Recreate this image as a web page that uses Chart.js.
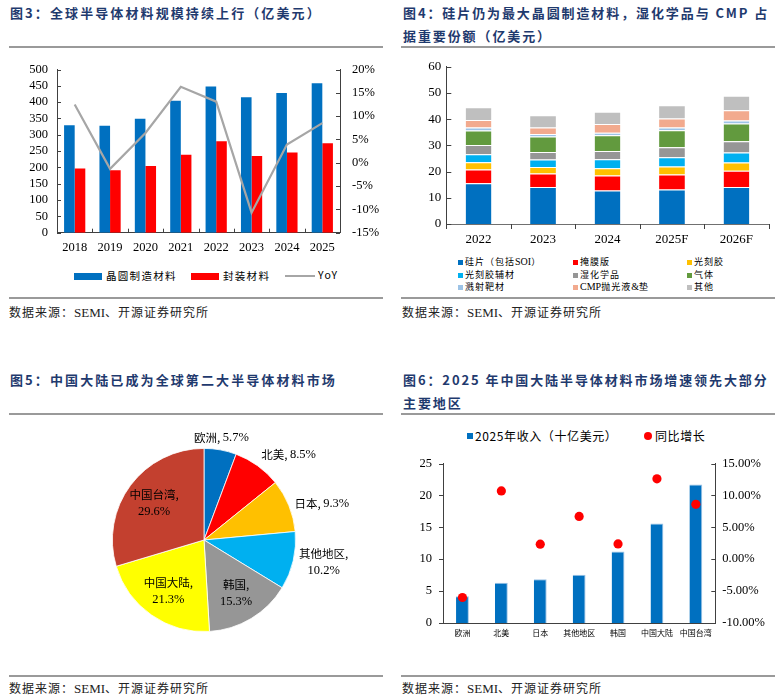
<!DOCTYPE html>
<html>
<head>
<meta charset="utf-8">
<script src="https://cdn.jsdelivr.net/npm/chart.js@4.4.1/dist/chart.umd.min.js"></script>
<style>
  html, body { margin: 0; padding: 0; background: #fff; }
  #page { position: relative; width: 784px; height: 697px; overflow: hidden; background: #fff;
          font-family: "Liberation Serif", "Noto Sans CJK SC", serif; color: #000; }
  .title { position: absolute; font-family: "Noto Sans CJK SC", sans-serif; font-weight: bold; font-size: 13px;
           letter-spacing: 2.1px; color: #1F3A6E; line-height: 23px; white-space: nowrap; }
  .rule { position: absolute; height: 2px; background: #9a9a9a; }
  .src { position: absolute; font-family: "Noto Sans CJK SC", sans-serif; font-size: 12px; letter-spacing: 1px;
         color: #222; white-space: nowrap; line-height: 16px; }
  .src .lat { font-family: "Liberation Serif", serif; font-size: 13px; letter-spacing: 0; }
  .box { position: absolute; }
  .leg { position: absolute; font-family: "Noto Sans CJK SC", sans-serif; white-space: nowrap; color: #000; }
  .leg span { position: absolute; }
</style>
</head>
<body>
<div id="page">
  <!-- Panel 1 -->
  <div class="title" style="left:10px; top:1px;">图3：全球半导体材料规模持续上行（亿美元）</div>
  <div class="rule" style="left:9px; width:374px; top:46px;"></div>
  <div class="box" style="left:0; top:50px; width:392px; height:215px;"><canvas id="c1"></canvas></div>
  <div class="leg" id="leg1" style="left:0; top:268px; width:392px; height:16px; font-size:10.5px; letter-spacing:1.3px;"></div>
  <div class="rule" style="left:9px; width:374px; top:297px;"></div>
  <div class="src" style="left:9px; top:304px;">数据来源：<span class="lat">SEMI</span>、开源证券研究所</div>

  <!-- Panel 2 -->
  <div class="title" style="left:403px; top:1px; letter-spacing:1.9px;">图4：硅片仍为最大晶圆制造材料，湿化学品与 CMP 占<br>据重要份额（亿美元）</div>
  <div class="rule" style="left:401px; width:374px; top:46px;"></div>
  <div class="box" style="left:392px; top:50px; width:392px; height:205px;"><canvas id="c2"></canvas></div>
  <div class="leg" id="leg2" style="left:392px; top:256px; width:392px; height:40px; font-size:9px; letter-spacing:1px;"></div>
  <div class="rule" style="left:401px; width:374px; top:297px;"></div>
  <div class="src" style="left:402px; top:304px;">数据来源：<span class="lat">SEMI</span>、开源证券研究所</div>

  <!-- Panel 3 -->
  <div class="title" style="left:10px; top:368px;">图5：中国大陆已成为全球第二大半导体材料市场</div>
  <div class="rule" style="left:9px; width:374px; top:413px;"></div>
  <div class="box" style="left:0; top:420px; width:392px; height:250px;"><canvas id="c3"></canvas></div>
  <div class="rule" style="left:9px; width:374px; top:675px;"></div>
  <div class="src" style="left:9px; top:680px;">数据来源：<span class="lat">SEMI</span>、开源证券研究所</div>

  <!-- Panel 4 -->
  <div class="title" style="left:403px; top:368px; letter-spacing:1.9px;">图6：2025 年中国大陆半导体材料市场增速领先大部分<br>主要地区</div>
  <div class="rule" style="left:401px; width:374px; top:413px;"></div>
  <div class="leg" id="leg4" style="left:392px; top:428px; width:392px; height:18px; font-size:12px; letter-spacing:0.6px;"></div>
  <div class="box" style="left:392px; top:445px; width:392px; height:200px;"><canvas id="c4"></canvas></div>
  <div class="rule" style="left:401px; width:374px; top:675px;"></div>
  <div class="src" style="left:402px; top:680px;">数据来源：<span class="lat">SEMI</span>、开源证券研究所</div>
</div>

<script>
// ---------------- DATA ----------------
// Figure 3: global semiconductor materials (100M USD)
const years3 = ['2018', '2019', '2020', '2021', '2022', '2023', '2024', '2025'];
const waferMaterials = [329, 328, 349, 404, 448, 415, 428, 458];
const packagingMaterials = [197, 191, 204, 239, 280, 235, 246, 274];
const yoyGrowth = [12.5, -1.3, 6.4, 16.3, 13.1, -10.7, 3.9, 8.5];
const seriesNames3 = ['晶圆制造材料', '封装材料', 'YoY'];

// Figure 4: wafer fab materials breakdown (100M USD)
const years4 = ['2022', '2023', '2024', '2025F', '2026F'];
const siliconWafer = [15.5, 14.1, 12.8, 13.2, 14.1];
const photomask = [5.3, 5.2, 5.7, 5.7, 6.2];
const photoresist = [2.8, 2.4, 2.8, 3.0, 3.2];
const photoresistAncillary = [3.0, 2.9, 3.4, 3.6, 3.8];
const wetChemicals = [3.5, 2.9, 3.1, 3.8, 4.3];
const gases = [5.6, 5.9, 6.1, 6.5, 6.7];
const sputterTargets = [1.1, 0.9, 0.9, 1.0, 1.2];
const cmpSlurryPad = [2.9, 2.5, 3.3, 3.4, 3.9];
const otherMaterials = [4.8, 4.7, 4.7, 5.1, 5.5];
const materialNames = ['硅片（包括SOI）', '掩膜版', '光刻胶', '光刻胶辅材', '湿化学品', '气体', '溅射靶材', 'CMP抛光液&垫', '其他'];

// Figure 5: regional share (%)
const pieRegions = ['欧洲', '北美', '日本', '其他地区', '韩国', '中国大陆', '中国台湾'];
const pieShares = [5.7, 8.5, 9.3, 10.2, 15.3, 21.3, 29.6];

// Figure 6: 2025 revenue by region (billion USD) and YoY growth (%)
const regions6 = ['欧洲', '北美', '日本', '其他地区', '韩国', '中国大陆', '中国台湾'];
const revenue2025 = [4.2, 6.3, 6.85, 7.55, 11.2, 15.6, 21.7];
const growth2025 = [-6.0, 10.7, 2.35, 6.7, 2.4, 12.6, 8.6];
const seriesNames6 = ['2025年收入（十亿美元）', '同比增长'];

// ---------------- STYLE ----------------
const BLUE = '#0070C0', RED = '#FF0000';
const materialColors = ['#0070C0', '#FF0000', '#FFC000', '#00B0F0', '#969696', '#629A3E', '#9DC3E6', '#F2AA8E', '#BFBFBF'];
const pieColors = ['#0070C0', '#FF0000', '#FFC000', '#00B0F0', '#969696', '#FFFF00', '#C3402F'];
const SERIF = '"Liberation Serif", "Noto Sans CJK SC", serif';
const SANS = '"Noto Sans CJK SC", sans-serif';
const AXIS = '#404040';

Chart.defaults.font.family = SERIF;
Chart.defaults.color = '#000';
Chart.defaults.animation = false;

// inward / outward tick marks drawn from the library scales
const axisTicks = {
  id: 'axisTicks',
  afterDraw(chart, args, opts) {
    const ctx = chart.ctx;
    ctx.save();
    ctx.strokeStyle = opts.color || AXIS;
    ctx.lineWidth = 1;
    for (const [id, len] of Object.entries(opts.scales || {})) {
      const s = chart.scales[id];
      if (!s) continue;
      ctx.beginPath();
      if (s.axis === 'y') {
        const left = s.position === 'left';
        const x = left ? s.right : s.left;
        const dir = left ? 1 : -1;
        s.ticks.forEach((t, i) => {
          const y = Math.round(s.getPixelForTick(i)) + 0.5;
          ctx.moveTo(x, y); ctx.lineTo(x + dir * len, y);
        });
      } else {
        const y = s.top;
        const n = s.ticks.length;
        for (let i = 0; i <= n; i++) {
          const x = Math.round(s.getPixelForValue(i - 0.5)) + 0.5;
          ctx.moveTo(x, y); ctx.lineTo(x, y - len);
        }
      }
      ctx.stroke();
    }
    ctx.restore();
  }
};

function fixedWidth(w) { return s => { s.width = w; }; }
function fixedHeight(h) { return s => { s.height = h; }; }

// ---------------- LEGENDS (HTML) ----------------
(function () {
  const l1 = document.getElementById('leg1');
  l1.innerHTML =
    `<span style="left:74px; top:4.5px; width:28px; height:7px; background:${BLUE}"></span>` +
    `<span style="left:106px; top:0px;">${seriesNames3[0]}</span>` +
    `<span style="left:191px; top:4.5px; width:28px; height:7px; background:${RED}"></span>` +
    `<span style="left:223px; top:0px;">${seriesNames3[1]}</span>` +
    `<span style="left:285px; top:7px; width:30px; height:2px; background:#A6A6A6"></span>` +
    `<span style="left:318px; top:-1px; font-family:${SERIF}; font-size:12.5px; letter-spacing:0;">${seriesNames3[2]}</span>`;

  const l2 = document.getElementById('leg2');
  const colX = [[66, 73], [181, 188], [295, 302]];
  let html = '';
  materialNames.forEach((name, i) => {
    const c = i % 3, r = Math.floor(i / 3);
    const top = r * 12.5;
    html += `<span style="left:${colX[c][0]}px; top:${top + 4}px; width:5px; height:5px; background:${materialColors[i]}"></span>`;
    html += `<span style="left:${colX[c][1]}px; top:${top - 1}px;">${name.replace(/([A-Za-z&]+)/g, '<b style="font-family:' + SERIF.replace(/"/g, "'") + ';font-weight:normal;font-size:10px;letter-spacing:0">$1</b>')}</span>`;
  });
  l2.innerHTML = html;

  const l4 = document.getElementById('leg4');
  l4.innerHTML =
    `<span style="left:75px; top:5px; width:6px; height:6px; background:${BLUE}"></span>` +
    `<span style="left:83px; top:-1px;">${seriesNames6[0]}</span>` +
    `<span style="left:252px; top:4px; width:8px; height:8px; border-radius:50%; background:${RED}"></span>` +
    `<span style="left:263px; top:-1px;">${seriesNames6[1]}</span>`;
})();

// ---------------- CHART 1 ----------------
new Chart(document.getElementById('c1'), {
  type: 'bar',
  data: {
    labels: years3,
    datasets: [
      { type: 'line', label: seriesNames3[2], data: yoyGrowth, yAxisID: 'y1', borderColor: '#A6A6A6',
        borderWidth: 2.2, pointRadius: 0, tension: 0, order: 0 },
      { label: seriesNames3[0], data: waferMaterials, backgroundColor: BLUE, yAxisID: 'y', order: 1,
        categoryPercentage: 0.6, barPercentage: 1.0 },
      { label: seriesNames3[1], data: packagingMaterials, backgroundColor: RED, yAxisID: 'y', order: 1,
        categoryPercentage: 0.6, barPercentage: 1.0 }
    ]
  },
  options: {
    responsive: true, maintainAspectRatio: false,
    layout: { padding: { top: 16, left: 0, right: 0, bottom: 0 } },
    plugins: { legend: { display: false }, tooltip: { enabled: false },
               axisTicks: { scales: { y: 4, y1: 4, x: 4 } } },
    scales: {
      x: { grid: { display: false, drawTicks: false }, border: { color: AXIS },
           ticks: { font: { size: 12.5 }, padding: 8, maxRotation: 0, autoSkip: false }, afterFit: fixedHeight(32.3) },
      y: { position: 'left', min: 0, max: 500, grid: { display: false, drawTicks: false }, border: { color: AXIS },
           ticks: { stepSize: 50, font: { size: 12.5 }, padding: 9, autoSkip: false }, afterFit: fixedWidth(57) },
      y1: { position: 'right', min: -15, max: 20, grid: { display: false, drawTicks: false }, border: { color: AXIS },
            ticks: { stepSize: 5, font: { size: 12.5 }, padding: 12, autoSkip: false, callback: v => v + '%' },
            afterFit: fixedWidth(52) }
    }
  },
  plugins: [axisTicks]
});

// ---------------- CHART 2 ----------------
const materialSeries = [siliconWafer, photomask, photoresist, photoresistAncillary, wetChemicals, gases, sputterTargets, cmpSlurryPad, otherMaterials];
new Chart(document.getElementById('c2'), {
  type: 'bar',
  data: {
    labels: years4,
    datasets: materialSeries.map((d, i) => ({
      label: materialNames[i], data: d, backgroundColor: materialColors[i],
      borderColor: 'rgba(255,255,255,0.55)', borderWidth: { top: 1, left: 0, right: 0, bottom: 0 },
      categoryPercentage: 0.4, barPercentage: 1.0
    }))
  },
  options: {
    responsive: true, maintainAspectRatio: false,
    layout: { padding: { top: 16.7, right: 15.3, left: 0, bottom: 0 } },
    plugins: { legend: { display: false }, tooltip: { enabled: false },
               axisTicks: { scales: { y: 5, x: -5 } } },
    scales: {
      x: { stacked: true, grid: { display: false, drawTicks: false }, border: { color: '#707070' },
           ticks: { font: { size: 13 }, padding: 8, maxRotation: 0, autoSkip: false }, afterFit: fixedHeight(31) },
      y: { stacked: true, min: 0, max: 60, grid: { display: false, drawTicks: false }, border: { color: AXIS },
           ticks: { stepSize: 10, font: { size: 13 }, padding: 5, autoSkip: false }, afterFit: fixedWidth(54.3) }
    }
  },
  plugins: [axisTicks]
});

// ---------------- CHART 3 (pie) ----------------
const pieLabels = {
  id: 'pieLabels',
  afterDatasetsDraw(chart) {
    const ctx = chart.ctx;
    const meta = chart.getDatasetMeta(0);
    const labels = chart.data.labels;
    const values = chart.data.datasets[0].data;
    ctx.save();
    ctx.fillStyle = '#000';
    meta.data.forEach((arc, i) => {
      const p = arc.getProps(['x', 'y', 'startAngle', 'endAngle', 'outerRadius'], true);
      const mid = (p.startAngle + p.endAngle) / 2;
      const dx = Math.cos(mid), dy = Math.sin(mid);
      const inside = values[i] >= 15;
      const name = labels[i] + ',';
      const pct = values[i].toFixed(1) + '%';
      const twoLines = inside || labels[i].length > 2;
      const lines = twoLines ? [name, pct] : [name + ' ' + pct];
      const fonts = l => (l === pct ? `12.5px ${SERIF}` : `11.5px ${SANS}`);
      const widthOf = l => {
        if (l === pct) { ctx.font = fonts(pct); return ctx.measureText(l).width; }
        if (!twoLines) {
          ctx.font = `11.5px ${SANS}`; const a = ctx.measureText(name + ' ').width;
          ctx.font = `12.5px ${SERIF}`; return a + ctx.measureText(pct).width;
        }
        ctx.font = fonts(l); return ctx.measureText(l).width;
      };
      const blockW = Math.max(...lines.map(widthOf));
      const lh = 17;
      const blockH = lines.length * lh;
      let cx, cy;
      if (inside) {
        cx = p.x + dx * p.outerRadius * 0.68;
        cy = p.y + dy * p.outerRadius * 0.68;
      } else {
        const ax = p.x + dx * (p.outerRadius + 6);
        const ay = p.y + dy * (p.outerRadius + 6);
        cx = dx > 0.5 ? ax + blockW / 2 : (dx < -0.5 ? ax - blockW / 2 : ax);
        cy = dy < -0.5 ? ay - blockH / 2 + 2 : ay;
      }
      ctx.textBaseline = 'middle';
      lines.forEach((l, k) => {
        const y = cy - blockH / 2 + lh * (k + 0.5);
        if (!twoLines) {
          ctx.font = `11.5px ${SANS}`;
          const a = ctx.measureText(name + ' ').width;
          let x0 = cx - blockW / 2;
          ctx.textAlign = 'left';
          ctx.fillText(name + ' ', x0, y);
          ctx.font = `12.5px ${SERIF}`;
          ctx.fillText(pct, x0 + a, y);
        } else {
          ctx.font = fonts(l);
          ctx.textAlign = 'center';
          ctx.fillText(l, cx, y);
        }
      });
    });
    ctx.restore();
  }
};
new Chart(document.getElementById('c3'), {
  type: 'pie',
  data: {
    labels: pieRegions,
    datasets: [{ data: pieShares, backgroundColor: pieColors, borderColor: '#ffffff', borderWidth: 0.8 }]
  },
  options: {
    responsive: true, maintainAspectRatio: false,
    layout: { padding: { left: 112, right: 96, top: 28, bottom: 38 } },
    plugins: { legend: { display: false }, tooltip: { enabled: false } }
  },
  plugins: [pieLabels]
});

// ---------------- CHART 4 ----------------
new Chart(document.getElementById('c4'), {
  type: 'bar',
  data: {
    labels: regions6,
    datasets: [
      { type: 'line', label: seriesNames6[1], data: growth2025, yAxisID: 'y1', showLine: false,
        pointRadius: 4.6, pointBackgroundColor: RED, pointBorderColor: RED, pointBorderWidth: 0, order: 0 },
      { label: seriesNames6[0], data: revenue2025, yAxisID: 'y', backgroundColor: BLUE,
        borderColor: '#9DC3E6', borderWidth: { top: 1, right: 1, left: 0, bottom: 0 },
        categoryPercentage: 0.33, barPercentage: 1.0, order: 1 }
    ]
  },
  options: {
    responsive: true, maintainAspectRatio: false,
    layout: { padding: { top: 11.7, left: 0, right: 0, bottom: 0 } },
    plugins: { legend: { display: false }, tooltip: { enabled: false },
               axisTicks: { scales: { y: -4, y1: 4 } } },
    scales: {
      x: { grid: { display: false, drawTicks: false }, border: { color: AXIS },
           ticks: { font: { size: 8, family: SANS }, padding: 5, maxRotation: 0, autoSkip: false },
           afterFit: fixedHeight(22) },
      y: { position: 'left', min: 0, max: 25, grid: { display: false, drawTicks: false }, border: { color: AXIS },
           ticks: { stepSize: 5, font: { size: 12.5 }, padding: 11, autoSkip: false }, afterFit: fixedWidth(51) },
      y1: { position: 'right', min: -10, max: 15, grid: { display: false, drawTicks: false }, border: { color: AXIS },
            ticks: { stepSize: 5, font: { size: 12.5 }, padding: 7, autoSkip: false, callback: v => v.toFixed(2) + '%' },
            afterFit: fixedWidth(68.7) }
    }
  },
  plugins: [axisTicks]
});
</script>
</body>
</html>
